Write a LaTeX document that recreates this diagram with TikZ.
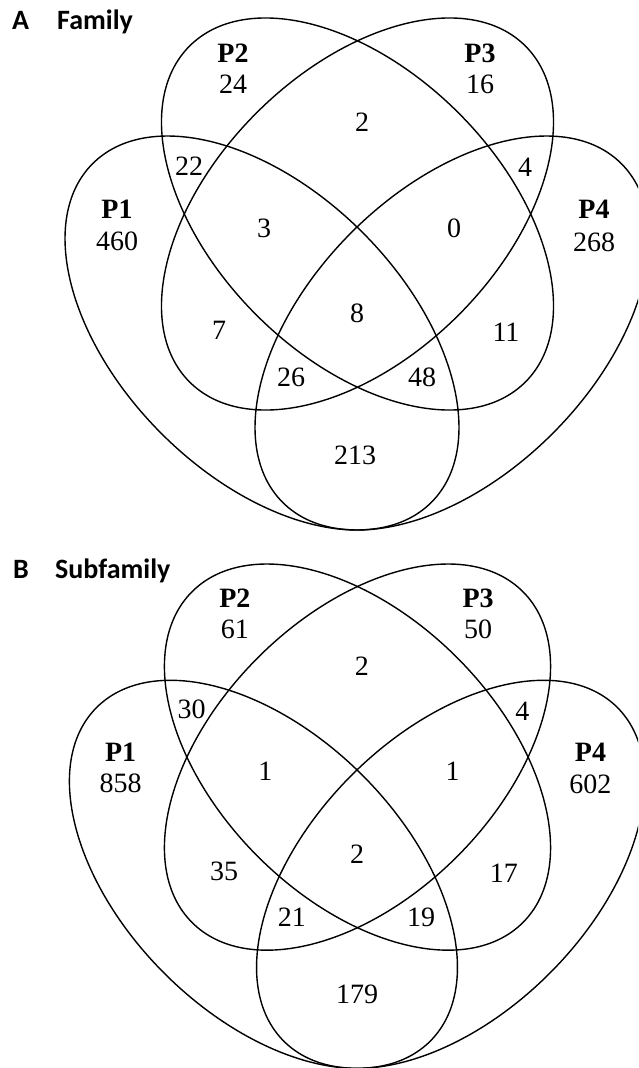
\documentclass[tikz,border=0pt]{standalone}
\usepackage{fontspec}
\setmainfont{Liberation Serif}
\newfontfamily\headfont{Carlito}

\tikzset{
  setline/.style={line width=1.4pt, black},
  setname/.style={font=\fontsize{28}{28}\selectfont\bfseries, inner sep=0pt},
  count/.style={font=\fontsize{28}{28}\selectfont, inner sep=0pt},
  paneltag/.style={font=\headfont\fontsize{28}{28}\selectfont\bfseries, inner sep=0pt, anchor=base west},
}

% The four rotated ellipses of one four-set Venn panel (pixel-like units, y down)
\newcommand\fourellipses{%
  \draw[setline, rotate around={-45:(262,333)}]   (262,333)   ellipse [x radius=239.5, y radius=142.2];
  \draw[setline, rotate around={-45:(357.5,214)}] (357.5,214) ellipse [x radius=237.5, y radius=142.9];
  \draw[setline, rotate around={45:(357.5,214)}]  (357.5,214) ellipse [x radius=237.5, y radius=142.9];
  \draw[setline, rotate around={45:(452,333)}]    (452,333)   ellipse [x radius=239.5, y radius=142.2];
}

\begin{document}
\begin{tikzpicture}[x=1pt, y=-1pt]
\path[use as bounding box] (0,0) rectangle (638,1068);
\clip (0,0) rectangle (638,1068);

% ---------- Panel A: Family ----------
\node[paneltag] (a-tag)   at (12,29) {A};
\node[paneltag] (a-title) at (57,29) {Family};
\fourellipses
\node[setname] (a-n1) at (117,209) {P1};
\node[count]   (a-c1) at (117,241) {460};
\node[setname] (a-n2) at (233,53)  {P2};
\node[count]   (a-c2) at (233,84)  {24};
\node[setname] (a-n3) at (480,53)  {P3};
\node[count]   (a-c3) at (480,84)  {16};
\node[setname] (a-n4) at (594,209) {P4};
\node[count]   (a-c4) at (594,242) {268};
\node[count] (a-r23)   at (362,122) {2};
\node[count] (a-r12)   at (189,166) {22};
\node[count] (a-r34)   at (525,167) {4};
\node[count] (a-r123)  at (264,228) {3};
\node[count] (a-r234)  at (454,228) {0};
\node[count] (a-r1234) at (357,313) {8};
\node[count] (a-r13)   at (219,330) {7};
\node[count] (a-r24)   at (506,332) {11};
\node[count] (a-r134)  at (291,377) {26};
\node[count] (a-r124)  at (422,377) {48};
\node[count] (a-r14)   at (355,455) {213};

% ---------- Panel B: Subfamily ----------
\node[paneltag] (b-tag)   at (13,578) {B};
\node[paneltag] (b-title) at (55,578) {Subfamily};
\begin{scope}[shift={(5.355,546.3)}, scale=0.985]
\fourellipses
\node[setname] (b-n1) at (117,209) {P1};
\node[count]   (b-c1) at (117,241) {858};
\node[setname] (b-n2) at (233,53)  {P2};
\node[count]   (b-c2) at (233,84)  {61};
\node[setname] (b-n3) at (480,53)  {P3};
\node[count]   (b-c3) at (480,84)  {50};
\node[setname] (b-n4) at (594,209) {P4};
\node[count]   (b-c4) at (594,242) {602};
\node[count] (b-r23)   at (362,122) {2};
\node[count] (b-r12)   at (189,166) {30};
\node[count] (b-r34)   at (525,167) {4};
\node[count] (b-r123)  at (264,228) {1};
\node[count] (b-r234)  at (454,228) {1};
\node[count] (b-r1234) at (357,313) {2};
\node[count] (b-r13)   at (222,330) {35};
\node[count] (b-r24)   at (506,332) {17};
\node[count] (b-r134)  at (291,377) {21};
\node[count] (b-r124)  at (422,377) {19};
\node[count] (b-r14)   at (357,455) {179};
\end{scope}
\end{tikzpicture}
\end{document}
